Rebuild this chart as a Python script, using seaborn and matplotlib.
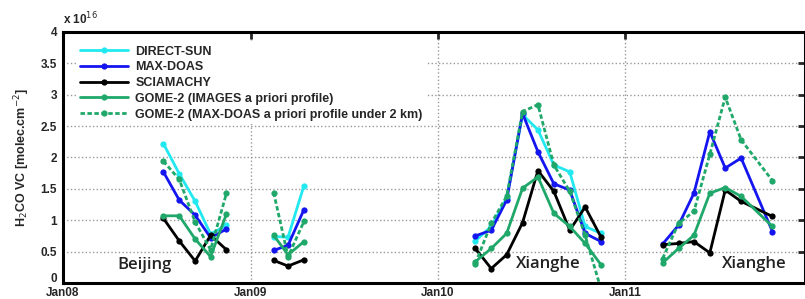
import pandas as pd
import numpy as np
import matplotlib
matplotlib.use('Agg')
import matplotlib.pyplot as plt
import matplotlib.dates as mdates
import matplotlib.transforms as mtrans
from matplotlib.lines import Line2D
import seaborn as sns

# ── DATA (x 10^16 molec/cm2, monthly means) ──────────────────
bj1_months = ['2008-07', '2008-08', '2008-09', '2008-10', '2008-11']
bj2_months = ['2009-02', '2009-03', '2009-04']
xh1_months = ['2010-03', '2010-04', '2010-05', '2010-06', '2010-07',
              '2010-08', '2010-09', '2010-10', '2010-11']
xh2_months = ['2011-03', '2011-04', '2011-05', '2011-06', '2011-07',
              '2011-08', '2011-10']

direct_sun_bj1 = [2.22, 1.74, 1.30, 0.78, 0.92]
direct_sun_bj2 = [0.74, 0.73, 1.55]
direct_sun_xh1 = [0.67, 0.90, 1.35, 2.68, 2.44, 1.88, 1.77, 0.90, 0.79]

maxdoas_bj1 = [1.77, 1.32, 1.08, 0.72, 0.86]
maxdoas_bj2 = [0.52, 0.60, 1.17]
maxdoas_xh1 = [0.75, 0.84, 1.32, 2.70, 2.09, 1.58, 1.48, 0.79, 0.66]
maxdoas_xh2 = [0.62, 0.92, 1.43, 2.41, 1.83, 1.99, 0.82]

sciamachy_bj1 = [1.03, 0.67, 0.35, 0.76, 0.53]
sciamachy_bj2 = [0.36, 0.27, 0.37]
sciamachy_xh1 = [0.55, 0.23, 0.45, 0.96, 1.79, 1.46, 0.84, 1.21, 0.73]
sciamachy_xh2 = [0.61, 0.63, 0.66, 0.48, 1.48, 1.30, 1.06]

gome_img_bj1 = [1.07, 1.07, 0.70, 0.42, 1.10]
gome_img_bj2 = [0.76, 0.45, 0.66]
gome_img_xh1 = [0.34, 0.55, 0.79, 1.51, 1.69, 1.11, 0.90, 0.63, 0.29]
gome_img_xh2 = [0.32, 0.55, 0.76, 1.43, 1.52, 1.38, 0.90]

gome_md_bj1 = [1.94, 1.65, 0.97, 0.53, 1.43]
gome_md_bj2 = [1.44, 0.42, 0.98]
gome_md_xh1 = [0.31, 0.95, 1.38, 2.73, 2.84, 1.88, 1.46, 0.76, -0.10]
gome_md_xh2 = [0.39, 0.95, 1.14, 2.05, 2.96, 2.28, 1.63]

series_names = ['DIRECT-SUN', 'MAX-DOAS', 'SCIAMACHY',
                'GOME-2 (IMAGES a priori profile)',
                'GOME-2 (MAX-DOAS a priori profile under 2 km)']
series_data = {
    'DIRECT-SUN': [(bj1_months, direct_sun_bj1), (bj2_months, direct_sun_bj2),
                   (xh1_months, direct_sun_xh1)],
    'MAX-DOAS': [(bj1_months, maxdoas_bj1), (bj2_months, maxdoas_bj2),
                 (xh1_months, maxdoas_xh1), (xh2_months, maxdoas_xh2)],
    'SCIAMACHY': [(bj1_months, sciamachy_bj1), (bj2_months, sciamachy_bj2),
                  (xh1_months, sciamachy_xh1), (xh2_months, sciamachy_xh2)],
    'GOME-2 (IMAGES a priori profile)': [(bj1_months, gome_img_bj1), (bj2_months, gome_img_bj2),
                                         (xh1_months, gome_img_xh1), (xh2_months, gome_img_xh2)],
    'GOME-2 (MAX-DOAS a priori profile under 2 km)': [(bj1_months, gome_md_bj1), (bj2_months, gome_md_bj2),
                                                      (xh1_months, gome_md_xh1), (xh2_months, gome_md_xh2)],
}
COLORS = ['#22e8f0', '#1515f0', '#000000', '#1fa86a', '#1fa86a']
STYLES = ['-', '-', '-', '-', (0, (1.6, 0.9))]
sites = [('Beijing', '2008-06-08', 0.29), ('Xianghe', '2010-08-05', 0.30),
         ('Xianghe', '2011-09-10', 0.30)]

rows = []
for name in series_names:
    for k, (months, vals) in enumerate(series_data[name]):
        for m, v in zip(months, vals):
            rows.append({'date': pd.Timestamp(m + '-15'), 'vc': v, 'series': name, 'campaign': k})
df = pd.DataFrame(rows)

# ── PLOT ─────────────────────────────────────────────────────
sns.set_style('white')
plt.rcParams['font.family'] = ['Liberation Sans', 'DejaVu Sans']

fig = plt.figure(figsize=(8.05, 2.99), dpi=100)
ax = fig.add_axes([0.078, 0.0535, 0.9217, 0.84])

for name, color, ls in zip(series_names, COLORS, STYLES):
    sub = df[df['series'] == name]
    sns.lineplot(data=sub, x='date', y='vc', units='campaign', estimator=None,
                 color=color, linestyle=ls, linewidth=2.0, marker='o', markersize=4.5,
                 markeredgewidth=0, ax=ax, legend=False)

ax.set_xlim(pd.Timestamp('2008-01-01'), pd.Timestamp('2011-12-17'))
ax.set_ylim(0, 4)
ax.set_yticks(np.arange(0, 4.01, 0.5))
ax.set_yticklabels(['0', '0.5', '1', '1.5', '2', '2.5', '3', '3.5', '4'])
ax.xaxis.set_major_locator(mdates.YearLocator())
ax.xaxis.set_major_formatter(mdates.DateFormatter('%b%y'))
ax.grid(True, color='#999999', linestyle=':', linewidth=1.0)
ax.set_axisbelow(True)
for s in ax.spines.values():
    s.set_linewidth(2.2)
    s.set_color('black')
ax.tick_params(direction='in', length=5, width=2, top=True, right=True,
               labelsize=8.5, pad=4)
ax.tick_params(axis='x', pad=3)
for lbl in ax.get_xticklabels() + ax.get_yticklabels():
    lbl.set_fontweight('bold')
# lift the "0" label a little so it clears "Jan08"
ylbls = ax.get_yticklabels()
ylbls[0].set_transform(ylbls[0].get_transform() +
                       mtrans.ScaledTranslation(0, 4 / 72, fig.dpi_scale_trans))
ax.set_xlabel('')
ax.set_ylabel('H$_2$CO VC [molec.cm$^{-2}$]', fontsize=9, fontweight='bold', labelpad=6)
ax.text(0.0, 1.02, 'x 10$^{16}$', transform=ax.transAxes, fontsize=8.5,
        fontweight='bold', ha='left', va='bottom')

for label, d, y in sites:
    ax.text(pd.Timestamp(d), y, label, fontsize=12, family='Open Sans',
            fontweight='semibold', color='#222222', ha='center', va='center')

handles = [Line2D([], [], color=c, linestyle=ls, linewidth=2.0, marker='o',
                  markersize=4.5, markeredgewidth=0) for c, ls in zip(COLORS, STYLES)]
leg = ax.legend(handles, series_names, loc='upper left', frameon=True, fancybox=False,
                edgecolor='none', framealpha=1.0, handlelength=3.8, labelspacing=0.3,
                borderpad=0.3, handletextpad=0.6, bbox_to_anchor=(0.01, 0.985),
                prop={'weight': 'bold', 'size': 9})

plt.savefig('out.png', dpi=100)
plt.close()
